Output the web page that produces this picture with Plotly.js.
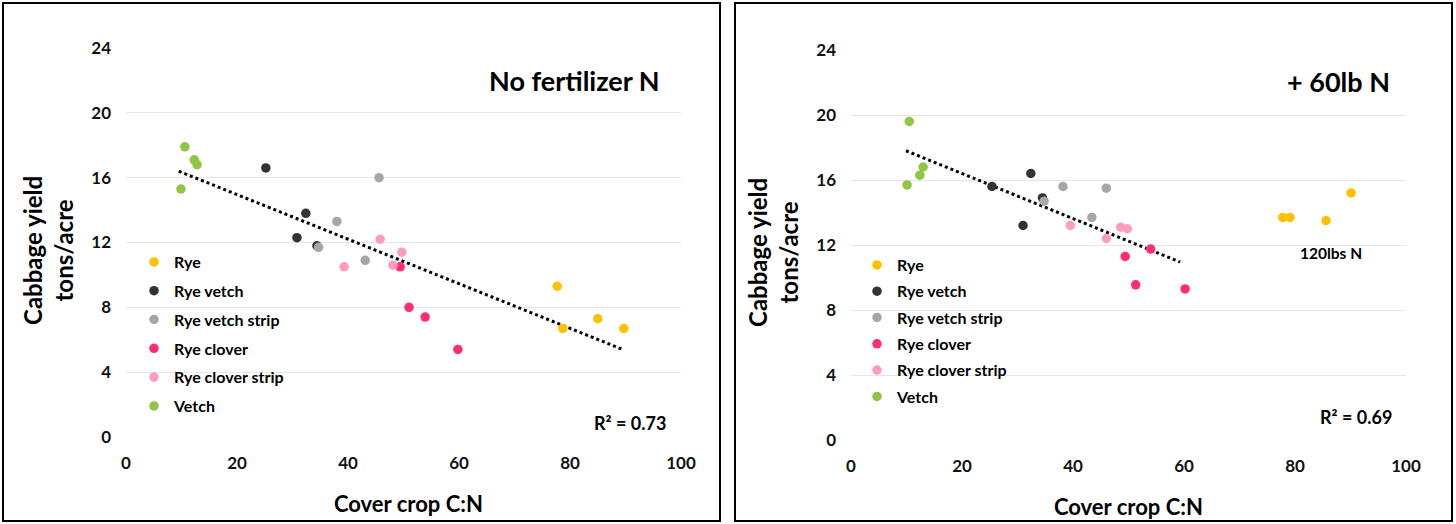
<!DOCTYPE html>
<html><head><meta charset="utf-8">
<script src="https://cdn.plot.ly/plotly-3.0.1.min.js"></script>
<style>body{margin:0;background:#fff}#c{width:1456px;height:524px}</style>
</head><body><div id="c"></div>
<script>
const categories = ['Rye','Rye vetch','Rye vetch strip','Rye clover','Rye clover strip','Vetch'];
const colors = ['#ffc000','#333333','#a6a6a6','#ff2d72','#ff9dbd','#8fc643'];

// Panel 1: No fertilizer N
const noN_rye_x = [77.7, 78.7, 85.0, 89.7];
const noN_rye_y = [9.3, 6.7, 7.3, 6.7];
const noN_ryeVetch_x = [25.2, 32.4, 30.8, 34.4];
const noN_ryeVetch_y = [16.6, 13.8, 12.3, 11.8];
const noN_ryeVetchStrip_x = [45.6, 38.0, 43.1, 34.7];
const noN_ryeVetchStrip_y = [16.0, 13.3, 10.9, 11.7];
const noN_ryeClover_x = [49.4, 51.0, 53.9, 59.8];
const noN_ryeClover_y = [10.5, 8.0, 7.4, 5.4];
const noN_ryeCloverStrip_x = [45.8, 49.7, 39.3, 48.1];
const noN_ryeCloverStrip_y = [12.2, 11.4, 10.5, 10.6];
const noN_vetch_x = [10.6, 12.3, 12.8, 9.9];
const noN_vetch_y = [17.9, 17.1, 16.8, 15.3];
const noN_trend_x = [9.5, 89.5];
const noN_trend_y = [16.4, 5.4];

// Panel 2: + 60lb N
const n60_rye_x = [77.8, 79.1, 85.6, 90.1];
const n60_rye_y = [13.7, 13.7, 13.5, 15.2];
const n60_ryeVetch_x = [25.4, 32.4, 31.0, 34.5];
const n60_ryeVetch_y = [15.6, 16.4, 13.2, 14.9];
const n60_ryeVetchStrip_x = [38.2, 46.0, 43.4, 34.8];
const n60_ryeVetchStrip_y = [15.6, 15.5, 13.7, 14.7];
const n60_ryeClover_x = [49.4, 51.3, 54.0, 60.2];
const n60_ryeClover_y = [11.3, 9.55, 11.75, 9.3];
const n60_ryeCloverStrip_x = [39.5, 48.6, 49.8, 46.0];
const n60_ryeCloverStrip_y = [13.2, 13.1, 13.0, 12.4];
const n60_vetch_x = [10.5, 13.0, 12.4, 10.1];
const n60_vetch_y = [19.6, 16.8, 16.3, 15.7];
const n60_trend_x = [9.9, 59.3];
const n60_trend_y = [17.8, 10.95];

const panel1 = [[noN_rye_x,noN_rye_y],[noN_ryeVetch_x,noN_ryeVetch_y],[noN_ryeVetchStrip_x,noN_ryeVetchStrip_y],[noN_ryeClover_x,noN_ryeClover_y],[noN_ryeCloverStrip_x,noN_ryeCloverStrip_y],[noN_vetch_x,noN_vetch_y]];
const panel2 = [[n60_rye_x,n60_rye_y],[n60_ryeVetch_x,n60_ryeVetch_y],[n60_ryeVetchStrip_x,n60_ryeVetchStrip_y],[n60_ryeClover_x,n60_ryeClover_y],[n60_ryeCloverStrip_x,n60_ryeCloverStrip_y],[n60_vetch_x,n60_vetch_y]];

const W=1456,H=524;
const px=x=>x/W, py=y=>1-y/H;
const FONT='Lato, "Open Sans", sans-serif';

const traces=[];
traces.push({x:noN_trend_x,y:noN_trend_y,mode:'lines',line:{color:'#000',dash:'dot',width:3},showlegend:false,xaxis:'x',yaxis:'y',hoverinfo:'skip'});
traces.push({x:n60_trend_x,y:n60_trend_y,mode:'lines',line:{color:'#000',dash:'dot',width:3},showlegend:false,xaxis:'x2',yaxis:'y2',hoverinfo:'skip'});
categories.forEach((c,i)=>{
  traces.push({x:panel1[i][0],y:panel1[i][1],name:c,mode:'markers',type:'scatter',
    marker:{color:colors[i],size:9.5},xaxis:'x',yaxis:'y',legend:'legend',legendgroup:'a'+i});
});
categories.forEach((c,i)=>{
  traces.push({x:panel2[i][0],y:panel2[i][1],name:c,mode:'markers',type:'scatter',
    marker:{color:colors[i],size:9.5},xaxis:'x2',yaxis:'y2',legend:'legend2',legendgroup:'b'+i});
});

const tickFont={family:FONT,size:17,color:'#111',weight:'bold'};
const xax={range:[0,100],dtick:20,tick0:0,showgrid:false,zeroline:false,showline:false,
  tickfont:tickFont,ticks:'',ticklabelstandoff:14,fixedrange:true};
const yax={range:[0,24],dtick:4,tick0:0,showgrid:true,gridcolor:'#e6e6e6',gridwidth:1,zeroline:false,showline:false,
  tickfont:tickFont,ticks:'',ticklabelstandoff:14,fixedrange:true};

const legFont={family:FONT,size:16,color:'#000',weight:'bold'};
const ann=(t,x,y,s,extra)=>Object.assign({text:t,xref:'paper',yref:'paper',x:px(x),y:py(y),showarrow:false,
  xanchor:'center',yanchor:'middle',font:{family:FONT,size:s,color:'#000',weight:'bold'}},extra||{});
const layout={
  width:W,height:H,margin:{l:0,r:0,t:0,b:0},paper_bgcolor:'#fff',plot_bgcolor:'#fff',
  font:{family:FONT},
  xaxis:Object.assign({},xax,{domain:[px(126),px(681)],anchor:'y'}),
  yaxis:Object.assign({},yax,{domain:[py(437),py(48)],anchor:'x'}),
  xaxis2:Object.assign({},xax,{domain:[px(851),px(1406)],anchor:'y2'}),
  yaxis2:Object.assign({},yax,{domain:[py(440),py(50)],anchor:'x2'}),
  legend:{x:px(134),y:py(245),xanchor:'left',yanchor:'top',bgcolor:'rgba(0,0,0,0)',font:legFont,
    traceorder:'grouped',tracegroupgap:5,itemwidth:30,itemclick:false,itemdoubleclick:false},
  legend2:{x:px(857),y:py(248),xanchor:'left',yanchor:'top',bgcolor:'rgba(0,0,0,0)',font:legFont,
    traceorder:'grouped',tracegroupgap:2.5,itemwidth:30,itemclick:false,itemdoubleclick:false},
  shapes:[
    {type:'rect',xref:'paper',yref:'paper',x0:px(3),x1:px(720),y0:py(521),y1:py(3),line:{color:'#000',width:2}},
    {type:'rect',xref:'paper',yref:'paper',x0:px(735),x1:px(1452),y0:py(521),y1:py(3),line:{color:'#000',width:2}}
  ],
  annotations:[
    ann('No fertilizer N',574,80,27),
    ann('+ 60lb N',1338,82,27),
    ann('R² = 0.73',630,423,18),
    ann('R² = 0.69',1356,417,18),
    {text:'120lbs N',xref:'x2',yref:'y2',x:86.4,y:11.5,showarrow:false,xanchor:'center',yanchor:'middle',
      font:{family:FONT,size:15.5,color:'#000',weight:'bold'}},
    ann('Cabbage yield<br>tons/acre',48,251,24,{textangle:-90}),
    ann('Cabbage yield<br>tons/acre',773,253,24,{textangle:-90}),
    ann('Cover crop C:N',408,503,22),
    ann('Cover crop C:N',1128,506,22)
  ]
};
Plotly.newPlot('c',traces,layout,{displayModeBar:false,staticPlot:true});
</script></body></html>
